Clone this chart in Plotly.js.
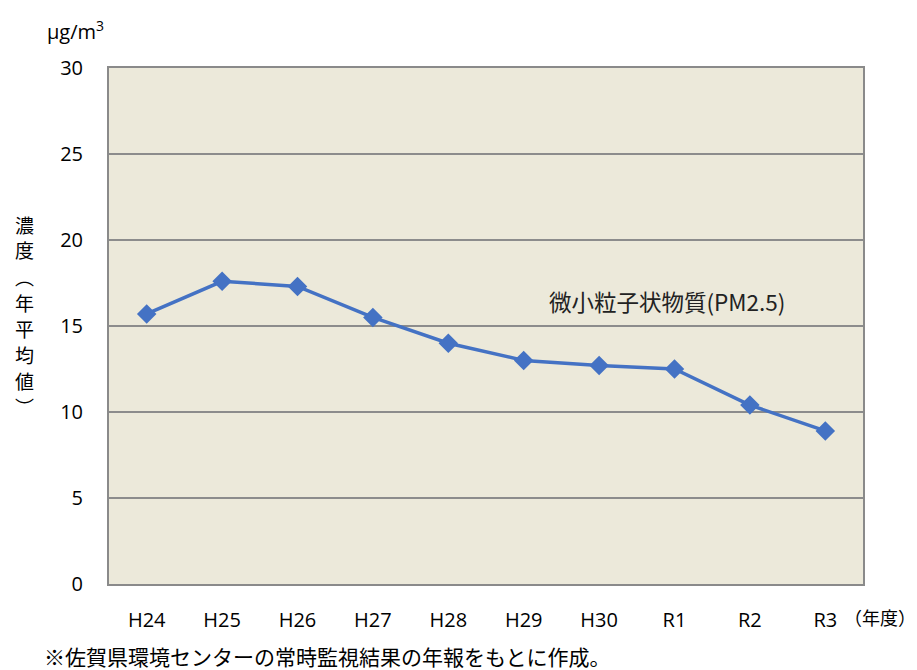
<!DOCTYPE html>
<html><head><meta charset="utf-8">
<script src="https://cdn.plot.ly/plotly-3.0.1.min.js"></script>
<style>html,body{margin:0;padding:0;background:#fff;}#chart{width:917px;height:670px;}</style>
</head><body><div id="chart"></div>
<script>
const categories = ["H24","H25","H26","H27","H28","H29","H30","R1","R2","R3"];
const pm25 = [15.7, 17.6, 17.3, 15.5, 14.0, 13.0, 12.7, 12.5, 10.4, 8.9];
const seriesName = "微小粒子状物質(PM2.5)";
const yTicks = [0, 5, 10, 15, 20, 25, 30];
const yTitleChars = ["濃","度","︵","年","平","均","値","︶"];

const font = "'Open Sans', 'Noto Sans CJK JP', sans-serif";
const jfont = "'Noto Sans CJK JP', sans-serif";
const trace = {
  x: categories, y: pm25, type: "scatter", mode: "lines+markers",
  line: {color: "#4472C4", width: 3.5},
  marker: {symbol: "diamond", size: 15, color: "#4472C4"},
  name: seriesName, hoverinfo: "skip"
};
const annotations = [
  {text: seriesName, xref: "paper", yref: "paper", x: 0.74, y: 0.548, showarrow: false,
   xanchor: "center", yanchor: "middle", font: {size: 22.5, color: "#222", family: jfont}},
  {text: "μg/m<sup>3</sup>", xref: "paper", yref: "paper", x: -0.045, y: 1.072, showarrow: false,
   xanchor: "center", yanchor: "middle", font: {size: 20, family: font}},
  {text: "（年度）", xref: "paper", yref: "paper", x: 0.973, y: -0.063, showarrow: false,
   xanchor: "left", yanchor: "middle", borderpad: 0, font: {size: 18, family: jfont}},
  {text: "※佐賀県環境センターの常時監視結果の年報をもとに作成。", xref: "paper", yref: "paper",
   x: -0.087, y: -0.14, showarrow: false, xanchor: "left", yanchor: "middle", borderpad: 0,
   font: {size: 21, family: jfont}}
];
yTitleChars.forEach((c, i) => {
  annotations.push({text: c, xref: "paper", yref: "paper", x: -0.112,
    y: (584 - (224 + i * 26)) / 516, showarrow: false, xanchor: "center", yanchor: "middle",
    borderpad: 0, font: {size: 19, family: jfont}});
});
const layout = {
  width: 917, height: 670,
  margin: {l: 109, r: 54, t: 68, b: 86},
  paper_bgcolor: "#ffffff", plot_bgcolor: "#ECE9DA",
  showlegend: false,
  font: {family: font, color: "#000", size: 20},
  xaxis: {
    type: "category", range: [-0.5, 9.5], showgrid: false,
    showline: true, linecolor: "#8a8a8a", linewidth: 2, mirror: true,
    ticks: "", ticklabelstandoff: 17, tickfont: {size: 20, family: font}, zeroline: false
  },
  yaxis: {
    range: [0, 30], tickvals: yTicks, showgrid: true, gridcolor: "#8c8c8c", gridwidth: 1.5,
    showline: true, linecolor: "#8a8a8a", linewidth: 2, mirror: true,
    ticks: "", ticklabelstandoff: 20, tickfont: {size: 20, family: font}, zeroline: false
  },
  annotations: annotations
};
Plotly.newPlot("chart", [trace], layout, {displayModeBar: false, staticPlot: true});
</script></body></html>
